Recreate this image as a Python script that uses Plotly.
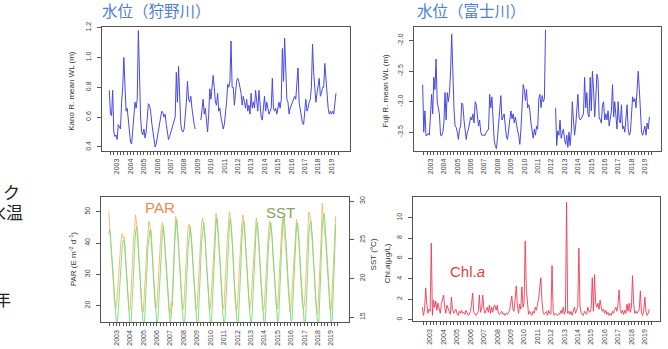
import plotly.graph_objects as go

# ---------------- data (monthly, starting June 2002) ----------------
START_YEAR = 2002
START_MONTH = 6
YEAR_LABELS = [str(y) for y in range(2003, 2020)]

kano_wl = (
    [0.78, 0.62, 0.61, 0.78, 0.50, 0.47, 0.48, 0.45, 0.55, 0.53, 0.52, 0.70]
    + [0.80, 1.00, 0.75, 0.64, 0.66, 0.58, 0.48, 0.43, 0.42, 0.50, 0.62, 0.70]
    + [0.66, 0.72, 1.18, 0.80, 0.60, 0.50, 0.48, 0.52, 0.46, 0.50, 0.58, 0.69]
    + [0.68, 0.64, 0.56, 0.50, 0.46, 0.40, 0.42, 0.47, 0.53, 0.55, 0.60, 0.64]
    + [0.63, 0.60, 0.62, 0.55, 0.50, 0.45, 0.47, 0.50, 0.52, 0.55, 0.58, 0.60]
    + [0.90, 0.70, 0.94, 0.65, 0.55, 0.51, 0.50, 0.52, 0.60, 0.70, 0.84, 0.72]
    + [0.70, 0.74, 0.66, 0.60, 0.55, 0.52, None, None, None, None, 0.58, 0.66]
    + [0.72, 0.62, 0.66, 0.58, 0.50, 0.62, 0.79, 0.72, 0.80, 0.88, 0.80, 0.70]
    + [0.68, 0.76, 0.64, 0.66, 0.60, 0.55, 0.52, 0.55, 0.62, 0.70, 0.82, 0.80]
    + [0.84, 1.11, 0.80, 0.80, 0.68, 0.78, 0.84, 0.86, 0.84, 0.80, 0.76, 0.68]
    + [0.74, 0.70, 0.66, 0.72, 0.64, 0.68, 0.62, 0.76, 0.66, 0.70, 0.66, 0.78]
    + [0.70, 0.64, 0.78, 0.66, 0.60, 0.58, 0.66, 0.74, 0.64, 0.70, 0.66, 0.62]
    + [0.64, 0.66, 0.86, 0.66, 0.64, 0.66, 0.62, 0.68, 0.70, 0.66, 0.72, 1.06]
    + [0.84, 1.13, 0.86, 0.72, 0.70, 0.62, 0.66, 0.68, 0.70, 0.72, 0.74, 0.72]
    + [0.80, 0.93, 0.70, 0.66, 0.60, 0.56, 0.55, 0.62, 0.72, 0.64, 0.66, 0.70]
    + [0.72, 0.80, 1.09, 0.90, 0.76, 0.70, 0.76, 0.80, 0.86, 0.74, 0.76, 0.80]
    + [0.80, 0.96, 0.84, 0.72, 0.66, 0.62, 0.64, 0.62, 0.64, 0.62, 0.68, 0.76]
)

fuji_wl = (
    [-2.72, -3.50, -3.15, -3.56, -3.55, -3.52, -3.55, -3.15, -2.88, -3.20, -2.60, -2.80]
    + [-2.30, -3.00, -3.10, -3.20, -3.55, -3.56, -3.50, -3.35, -2.85, -3.30, -2.85, -3.00]
    + [-2.85, -2.50, -1.89, -2.60, -3.10, -3.40, -3.42, -3.50, -3.62, -3.45, -3.40, -3.02]
    + [-3.05, -3.30, -3.45, -3.62, -3.50, -3.45, -3.35, -3.25, -3.30, -3.20, -3.35, -3.00]
    + [-3.05, -3.25, -3.40, -3.30, -3.50, -3.55, -3.55, -3.55, -3.55, -3.50, -3.48, -3.45]
    + [-2.88, -3.10, -2.92, -3.40, -3.62, -3.72, -3.77, -3.60, -3.35, -3.15, -2.90, -3.30]
    + [-3.25, -3.20, -3.40, -3.58, -3.62, -3.50, -3.30, -3.15, -3.28, -3.20, -3.35, -3.25]
    + [-3.40, -3.48, -3.55, -3.70, -3.45, -3.00, -2.72, -2.80, -2.98, -2.80, -3.10, -3.05]
    + [-3.15, -3.35, -3.50, -3.60, -3.45, -3.55, -3.40, -3.45, -2.95, -2.88, -3.10, -2.90]
    + [-3.00, -2.95, -1.82, None, None, None, None, None, None, None, None, -3.10]
    + [-3.72, -3.48, -3.55, -3.30, -3.60, -3.52, -3.45, -3.62, -3.70, -3.55, -3.75, -3.50]
    + [-3.72, -3.50, -3.00, -3.30, -3.55, -3.40, -3.10, -2.88, -3.25, -3.30, -3.28, -3.25]
    + [-3.20, -2.60, -3.10, -2.85, -3.20, -3.25, -2.60, -3.15, -2.50, -2.80, -3.25, -2.95]
    + [-2.55, -2.62, -3.25, -3.30, -3.35, -3.05, -3.00, -3.30, -3.20, -3.30, -3.15, -3.40]
    + [-3.30, -3.15, -2.72, -3.25, -3.00, -3.30, -3.45, -3.00, -3.30, -3.35, -3.05, -3.45]
    + [-3.40, -3.50, -3.20, -3.05, -3.45, -3.55, -3.50, -3.10, -2.92, -3.00, -2.95, -3.10]
    + [-2.80, -2.50, -2.80, -3.20, -3.50, -3.55, -3.45, -3.40, -3.55, -3.35, -3.45, -3.25]
)

par = (
    [50, 45, 41, 35, 28, 22, 19, 20, 25, 31, 37, 41]
    + [43, 41.5, 42, 36, 29, 23, 19, 18.5, 24, 32, 40, 46]
    + [49, 46, 43, 36, 29, 22, 18, 18, 23, 31, 38, 44]
    + [47, 45, 44, 37, 29, 22, 19, 20, 26, 33, 40, 45]
    + [46.5, 43, 41, 35, 28, 21, 18, 17.5, 21, 20, 33, 42]
    + [48.5, 45, 42, 36, 29, 22, 19, 19, 25, 32, 40, 45]
    + [46, 44, 42, 35, 28, 21, 18.5, 19, 26, 33, 40, 46]
    + [48, 45, 43, 36, 29, 22, 19, 19, 25, 32, 40, 46]
    + [49.5, 46, 43, 37, 30, 23, 20, 19, 25, 33, 41, 47]
    + [50, 47, 44, 37, 29, 22, 18.5, 19, 26, 34, 41, 46]
    + [49, 46, 43, 36, 29, 22, 19, 20, 26, 33, 40, 45]
    + [48, 46, 42, 35, 28, 21, 18.5, 19, 25, 32, 40, 44]
    + [47, 45, 43, 36, 30, 23, 19.5, 19, 26, 33, 41, 46]
    + [48, 44, 41, 35, 28, 21, 18, 19, 25, 31, 39, 45]
    + [47.5, 45, 42, 34, 27, 21, 19, 20, 26, 33, 41, 50]
    + [49, 46, 43, 36, 29, 22, 18, 17.5, 24, 32, 41, 52.7]
    + [47, 44, 41, 35, 28, 21, 18.5, 19, 25, 33, 41, 48.5]
)

sst = (
    [25.8, 26.3, 24.5, 23, 20.5, 18, 15.5, 14.0, 14.6, 17, 19.5, 22.5]
    + [24.0, 25.0, 24.8, 22.5, 20, 17.5, 15, 13.8, 14.3, 16.5, 20, 23.5]
    + [26.0, 26.7, 25, 23, 20.5, 17.5, 15, 13.9, 14.5, 17, 20.5, 24]
    + [25.5, 26.3, 25, 22.5, 20, 17.5, 15.2, 14.0, 14.8, 17.5, 21, 24.5]
    + [26.0, 26.7, 24.5, 22, 19.5, 17.2, 15.5, 14.1, 15.2, 17.5, 21, 24.5]
    + [27.0, 27.6, 25.5, 23, 20.5, 18, 15.5, 14.0, 14.4, 17, 20.5, 24]
    + [26.0, 26.7, 25, 22.5, 20, 17.5, 15, 13.8, 14.2, 17, 21, 24.5]
    + [26.5, 27.2, 25.5, 23, 20.5, 18, 15.3, 14.0, 14.5, 17.5, 21, 25]
    + [27.2, 27.8, 26, 23.5, 21, 18, 15.5, 14.2, 14.6, 17.5, 21.5, 25]
    + [27.0, 27.8, 26, 23.5, 20.5, 17.5, 15, 13.9, 14.3, 17, 21, 24.5]
    + [26.8, 27.4, 25.5, 23, 20.5, 18, 15.5, 14.1, 14.6, 17.5, 21, 24.5]
    + [26.5, 27.2, 25.5, 23, 20, 17.5, 15.2, 14.0, 14.5, 17, 21, 24.5]
    + [26.5, 27.2, 25.5, 23, 20.5, 18, 15.5, 14.3, 14.8, 17.5, 21.5, 25]
    + [27.5, 28.0, 26.5, 24, 21, 18.5, 16, 14.5, 14.6, 17.5, 21.5, 25]
    + [26.8, 27.2, 25.5, 23, 20.5, 18, 15.3, 14.0, 14.4, 17, 21, 25.5]
    + [27.0, 27.4, 25.5, 23, 20.5, 17.5, 15, 13.9, 14.5, 17.5, 22, 26.5]
    + [28.0, 28.4, 26, 23.5, 21, 18, 15.5, 14.2, 14.8, 18, 22.5, 27.0]
)

chl = (
    [1.2, 0.4, 1.0, 3.1, 1.5, 0.6, 1.0, 0.8, 7.5, 0.4, 1.9, 1.2]
    + [1.8, 0.9, 1.6, 1.0, 0.6, 1.5, 2.0, 2.4, 1.2, 0.6, 1.4, 1.0]
    + [0.8, 0.5, 2.2, 1.0, 0.6, 0.8, 1.0, 0.6, 0.4, 0.8, 0.6, 0.9]
    + [0.6, 0.7, 0.5, 0.9, 0.6, 0.4, 0.5, 0.8, 1.5, 2.6, 0.7, 0.5]
    + [0.4, 0.6, 0.8, 2.4, 0.7, 1.0, 2.4, 1.1, 0.6, 0.9, 1.2, 0.7]
    + [1.4, 0.6, 1.2, 0.7, 1.3, 1.4, 0.9, 1.4, 0.6, 0.5, 0.6, 0.8]
    + [0.5, 0.6, 0.4, 0.6, 0.5, 0.7, 0.9, 1.6, 2.3, 1.0, 0.8, 2.0]
    + [3.3, 1.4, 0.6, 1.5, 1.0, 3.2, 1.2, 1.6, 7.7, 3.0, 1.2, 0.5]
    + [0.8, 0.6, 0.4, 0.8, 0.6, 1.2, 0.9, 1.5, 2.0, 3.2, 4.1, 1.8]
    + [0.7, 0.5, 0.6, 0.8, 0.4, 0.9, 0.6, 0.5, 5.3, 0.8, 0.4, 0.6]
    + [0.5, 0.4, 0.6, 0.5, 0.9, 0.6, 1.2, 0.5, 0.8, 11.5, 0.6, 0.8]
    + [0.5, 0.8, 0.4, 1.0, 1.2, 0.6, 1.0, 1.2, 7.0, 1.3, 0.6, 0.5]
    + [0.4, 0.8, 0.6, 0.5, 1.2, 0.8, 0.7, 1.1, 4.1, 0.8, 4.4, 1.6]
    + [1.2, 1.6, 1.0, 1.9, 1.2, 0.8, 1.0, 0.6, 0.9, 0.5, 0.7, 0.4]
    + [0.6, 0.4, 0.8, 0.6, 1.0, 1.2, 0.8, 1.5, 2.9, 1.0, 0.6, 0.9]
    + [0.5, 0.9, 0.6, 1.5, 0.8, 1.6, 0.7, 1.2, 4.3, 1.5, 0.6, 0.8]
    + [0.6, 0.8, 1.0, 2.8, 0.6, 0.4, 0.8, 2.2, 0.8, 0.4, 0.6, 1.0]
)

# decimal-year time axis
n = len(kano_wl)
t = [START_YEAR + (START_MONTH - 1 + i) / 12 for i in range(n)]

# quarterly tick marks, year labels at January
tick_vals, tick_text = [], []
q = START_YEAR + 0.5
while q <= 2019.5 + 1e-9:
    tick_vals.append(q)
    lab = str(int(round(q))) if abs(q - round(q)) < 1e-6 else ""
    tick_text.append(lab if lab in YEAR_LABELS else " ")
    q += 0.25

W, H = 668, 349
def dx(a, b):
    return [a / W, b / W]
def dy(top, bottom):
    return [1 - bottom / H, 1 - top / H]

BLUE = "#4848e8"
FONT = "Liberation Sans, Arial, sans-serif"
CJK = "Noto Sans CJK JP, sans-serif"
BOX = "#555555"

fig = go.Figure()
fig.add_trace(go.Scatter(x=t, y=kano_wl, mode="lines", line=dict(color=BLUE, width=1),
                         xaxis="x", yaxis="y", connectgaps=False))
fig.add_trace(go.Scatter(x=t, y=fuji_wl, mode="lines", line=dict(color=BLUE, width=1),
                         xaxis="x2", yaxis="y2", connectgaps=False))
fig.add_trace(go.Scatter(x=t, y=par, mode="lines", line=dict(color="#f6b468", width=0.9),
                         xaxis="x3", yaxis="y3"))
fig.add_trace(go.Scatter(x=t, y=sst, mode="lines", line=dict(color="#74dc74", width=0.9),
                         xaxis="x3", yaxis="y4"))
fig.add_trace(go.Scatter(x=t, y=chl, mode="lines", line=dict(color="#f03a55", width=0.9),
                         xaxis="x4", yaxis="y5"))

tickfont = dict(family=FONT, size=7, color="#444")

def xax(domain, anchor, rng):
    return dict(domain=domain, anchor=anchor, range=rng, tickvals=tick_vals, ticktext=tick_text,
                tickangle=-90, ticks="outside", ticklen=3, tickcolor="#555", tickwidth=1,
                showline=True, linecolor=BOX, linewidth=1, mirror=True, showgrid=False,
                zeroline=False, tickfont=tickfont, ticklabelstandoff=1)

def yax(domain, anchor, rng, vals, texts, side="left", mirror=True):
    return dict(domain=domain, anchor=anchor, range=rng, tickvals=vals, ticktext=texts,
                tickangle=-90, ticks="outside", ticklen=4, tickcolor="#555", tickwidth=1,
                showline=True, linecolor=BOX, linewidth=1, mirror=mirror, showgrid=False,
                zeroline=False, tickfont=tickfont, side=side, ticklabelstandoff=3)

fig.update_layout(
    width=W, height=H, margin=dict(l=0, r=0, t=0, b=0),
    paper_bgcolor="white", plot_bgcolor="white", showlegend=False,
    xaxis=xax(dx(102, 350), "y", [2001.87, 2020.38]),
    yaxis=yax(dy(22, 148), "x", [0.3736, 1.2066], [0.4, 0.6, 0.8, 1.0, 1.2],
              ["0.4", "0.6", "0.8", "1.0", "1.2"]),
    xaxis2=xax(dx(414, 661), "y2", [2001.77, 2020.20]),
    yaxis2=yax(dy(22, 148), "x2", [-3.807, -1.769], [-3.5, -3.0, -2.5, -2.0],
               ["-3.5", "-3.0", "-2.5", "-2.0"]),
    xaxis3=xax(dx(101, 349), "y3", [2001.84, 2020.33]),
    yaxis3=yax(dy(195, 322), "x3", [14.63, 54.64], [20, 30, 40, 50],
               ["20", "30", "40", "50"], mirror=False),
    yaxis4=dict(yax(dy(195, 322), "x3", [14.33, 30.51], [15, 20, 25, 30],
                    ["15", "20", "25", "30"], side="right", mirror=False), overlaying="y3"),
    xaxis4=xax(dx(413, 660), "y5", [2001.72, 2020.13]),
    yaxis5=yax(dy(195, 321), "x4", [-0.19, 12.01], [0, 2, 4, 6, 8, 10],
               ["0", "2", "4", "6", "8", "10"]),
)

def px_ann(x, y, text, size, color, family=FONT, xanchor="center", yanchor="middle", angle=0):
    fig.add_annotation(x=x / W, y=1 - y / H, xref="paper", yref="paper", text=text,
                       showarrow=False, xanchor=xanchor, yanchor=yanchor, textangle=angle,
                       font=dict(family=family, size=size, color=color))

TITLE = "#4f80d8"
px_ann(156, 5, "水位（狩野川）", 15.5, TITLE, family=CJK)
px_ann(471, 5, "水位（富士川）", 15.5, TITLE, family=CJK)

# axis titles
AX = "#333"
px_ann(72, 87, "Kano R. mean WL (m)", 8, AX, angle=-90)
px_ann(386, 87, "Fuji R. mean WL (m)", 8, AX, angle=-90)
px_ann(73, 258, "PAR (E m<sup>-2</sup> d<sup>-1</sup>)", 8, AX, angle=-90)
px_ann(373, 253, "SST (°C)", 8, AX, angle=-90)
px_ann(387, 262, "Chl.<i>a</i>(μg/L)", 8, AX, angle=-90)

# in-panel labels
px_ann(160, 205, "PAR", 15, "#f0894a")
px_ann(280, 211, "SST", 15, "#86a35a")
px_ann(467, 270, "Chl.<i>a</i>", 15, "#e5403c")

# slide text cut off at left edge
px_ann(11, 189, "ク", 17, "#222", family=CJK)
px_ann(6, 210, "水温", 17, "#222", family=CJK)
px_ann(2, 298, "年", 17, "#222", family=CJK)

fig.write_html("out.html", config={"displayModeBar": False},
               post_script="document.body.style.margin='0px';")
